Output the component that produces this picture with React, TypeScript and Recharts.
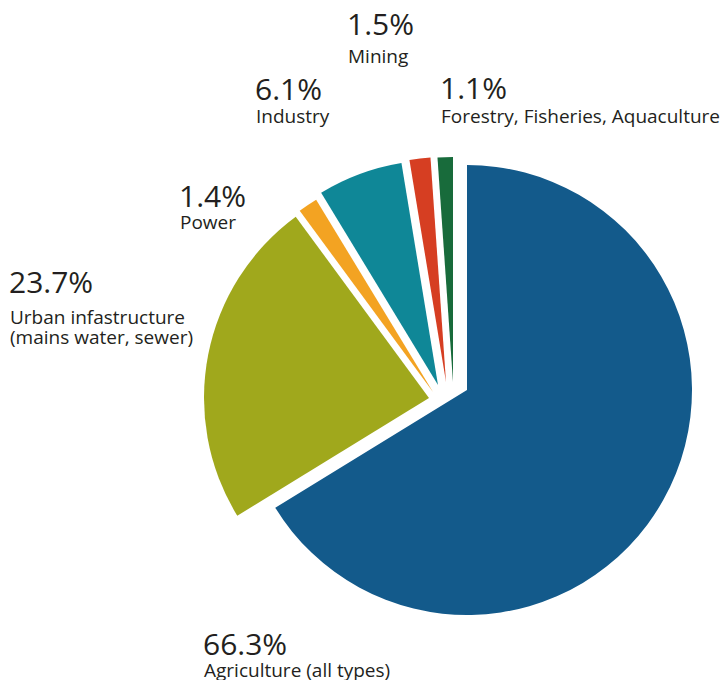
import { PieChart, Pie, Cell } from "recharts";

// water use share by sector, %
const sectors = [
  "Agriculture (all types)",
  "Urban infastructure",
  "Power",
  "Industry",
  "Mining",
  "Forestry, Fisheries, Aquaculture",
];
const shares = [66.3, 23.7, 1.4, 6.1, 1.5, 1.1];
const percentLabels = ["66.3%", "23.7%", "1.4%", "6.1%", "1.5%", "1.1%"];
const secondLines = ["", "(mains water, sewer)", "", "", "", ""];

const COLORS = ["#135a8b", "#a0a81c", "#f3a322", "#0f8797", "#d63e22", "#186b3b"];

// each slice is pulled out on its own
const CENTERS = [
  [467, 390],
  [429, 398],
  [433, 392],
  [438, 385],
  [446, 382],
  [453, 382],
];

// label anchors: [x, baseline of %, baseline of name]
const LABELS = [
  [203, 655, 677],
  [9, 293, 324],
  [179, 207, 229],
  [255, 100, 123],
  [347, 35, 63],
  [440, 99, 123],
];

const data = sectors.map((name, i) => ({ name, value: shares[i] }));
const TEXT = "#231f20";

export default function App() {
  return (
    <div style={{ position: "absolute", left: 0, top: 0 }}>
      <PieChart
        width={721}
        height={680}
        margin={{ top: 0, right: 0, bottom: 0, left: 0 }}
        style={{ fontFamily: "'Open Sans', sans-serif" }}
      >
        {CENTERS.map(([cx, cy], k) => (
          <Pie
            key={sectors[k]}
            data={data}
            dataKey="value"
            nameKey="name"
            cx={cx}
            cy={cy}
            innerRadius={0}
            outerRadius={225}
            startAngle={90}
            endAngle={-270}
            stroke="none"
            isAnimationActive={false}
          >
            {data.map((d, i) => (
              <Cell key={d.name} fill={i === k ? COLORS[i] : "none"} />
            ))}
          </Pie>
        ))}
        {LABELS.map(([x, y1, y2], i) => (
          <g key={sectors[i]} fill={TEXT}>
            <text x={x} y={y1} fontSize={30}>
              {percentLabels[i]}
            </text>
            <text x={x + 1} y={y2} fontSize={19}>
              {sectors[i]}
            </text>
            {secondLines[i] && (
              <text x={x + 1} y={y2 + 20} fontSize={19}>
                {secondLines[i]}
              </text>
            )}
          </g>
        ))}
      </PieChart>
    </div>
  );
}
